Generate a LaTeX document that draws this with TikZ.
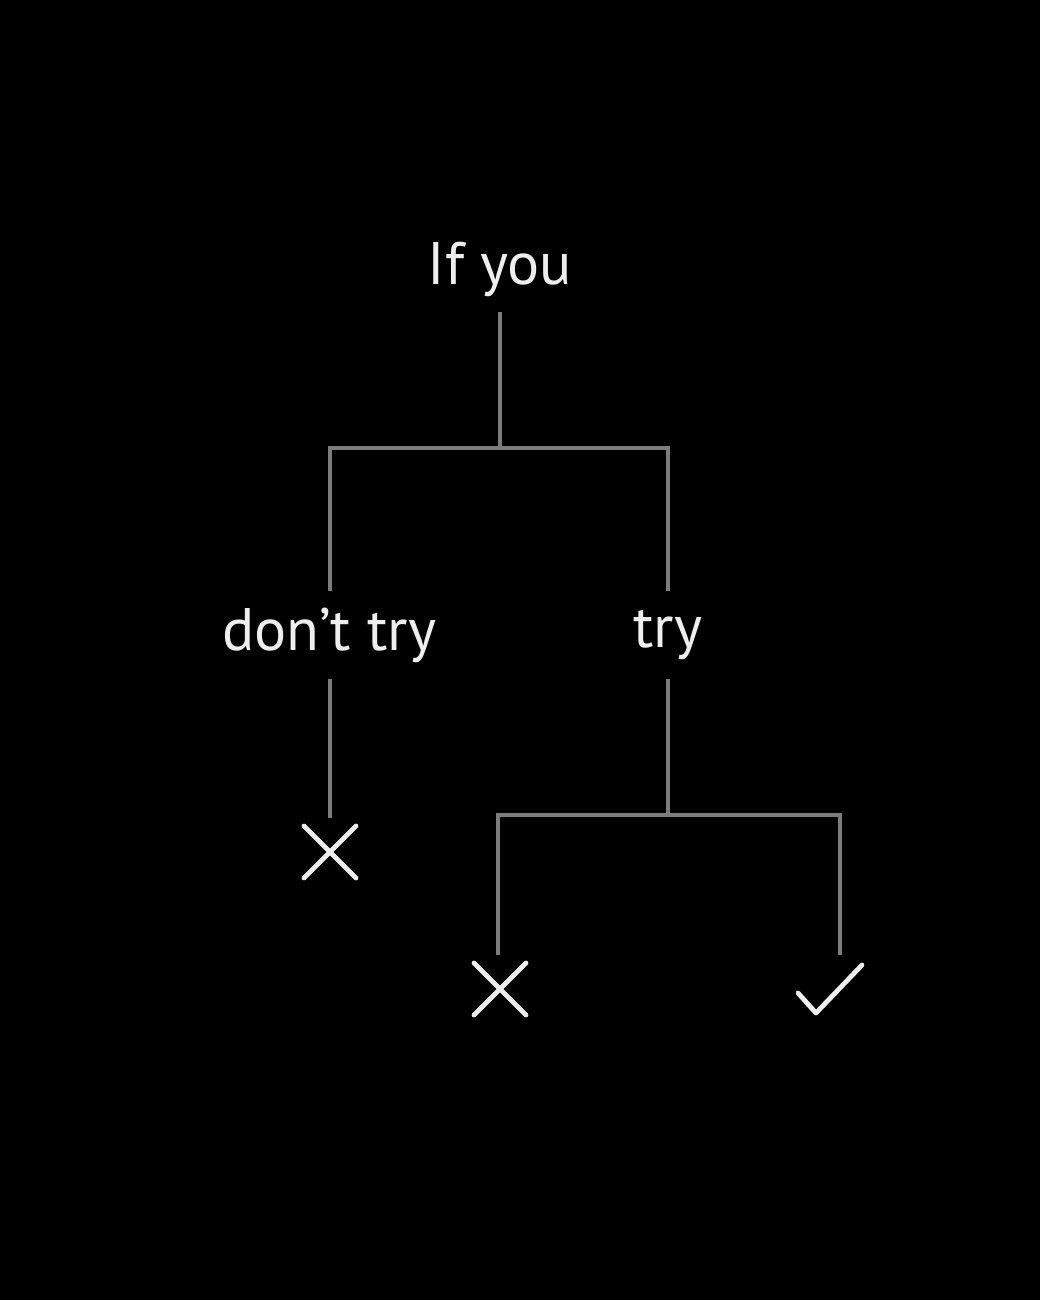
\documentclass[tikz,border=0pt]{standalone}
\usepackage{fontspec}
\setmainfont{PT Sans}
\begin{document}
\begin{tikzpicture}[x=0.5pt,y=-0.5pt,
  conn/.style={draw=linegray,line width=2.2pt},
  lbl/.style={text=textwhite,font=\fontsize{30}{35}\selectfont,inner sep=0pt},
  xmark/.style={minimum size=34pt,inner sep=0pt,
    path picture={\draw[textwhite,line width=2.4pt,line cap=round]
      ([shift={(4pt,-4pt)}]path picture bounding box.north west) -- ([shift={(-4pt,4pt)}]path picture bounding box.south east)
      ([shift={(-4pt,-4pt)}]path picture bounding box.north east) -- ([shift={(4pt,4pt)}]path picture bounding box.south west);}},
  chkmark/.style={minimum size=34pt,inner sep=0pt,
    path picture={\draw[textwhite,line width=2.4pt,line cap=round,line join=round]
      ([shift={(-16pt,-2pt)}]path picture bounding box.center) -- ([shift={(-7pt,-12pt)}]path picture bounding box.center) -- ([shift={(16pt,12pt)}]path picture bounding box.center);}}]
\definecolor{linegray}{HTML}{7C7C7C}
\definecolor{textwhite}{HTML}{EEEEEE}
\fill[black] (0,0) rectangle (1040,1300);
\useasboundingbox (0,0) rectangle (1040,1300);

\node[lbl,minimum height=43pt] (top) at (500,269) {If you};
\node[lbl,minimum height=44pt] (dont) at (329,635) {don’t try};
\node[lbl,minimum height=44pt] (try) at (668,635) {try};
\node[xmark] (x1) at (330,852) {};
\node[xmark] (x2) at (500,989) {};
\node[chkmark] (chk) at (830,989) {};

\coordinate (j1) at (500,448);
\coordinate (jl) at (330,448);
\coordinate (jr) at (668,448);
\coordinate (j2) at (668,815);
\coordinate (kl) at (498,815);
\coordinate (kr) at (840,815);

\draw[conn] (top.south) -- (j1);
\draw[conn] (dont.north -| jl) -- (jl) -- (jr) -- (try.north);
\draw[conn] (dont.south -| jl) -- (x1.north);
\draw[conn] (try.south) -- (j2);
\draw[conn] (x2.north -| kl) -- (kl) -- (kr) -- (kr |- chk.north);
\end{tikzpicture}
\end{document}
